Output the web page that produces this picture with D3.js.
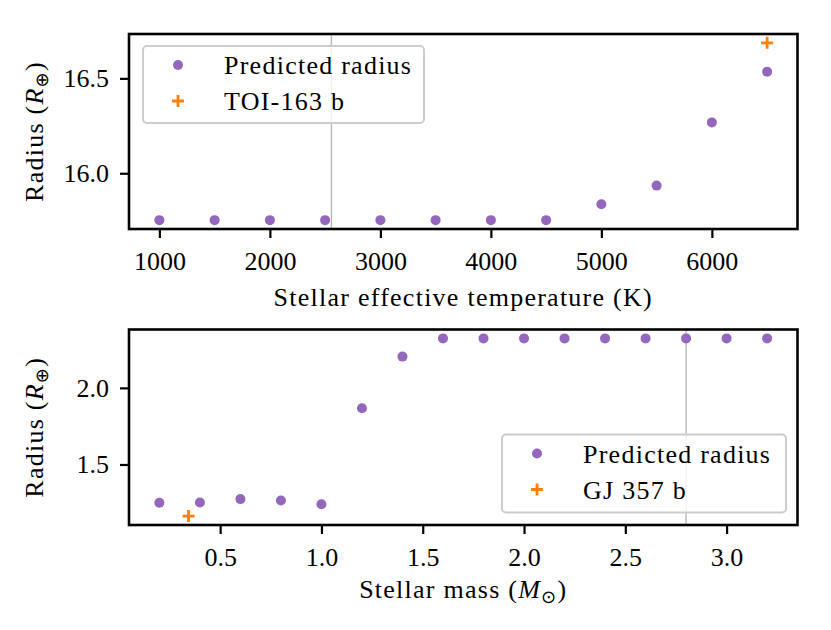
<!DOCTYPE html>
<html>
<head>
<meta charset="utf-8">
<script src="https://cdn.jsdelivr.net/npm/d3@7"></script>
</head>
<body style="margin:0">
<svg id="chart"></svg>
<script>
// top panel: radius vs stellar effective temperature
const tempK = [1000, 1500, 2000, 2500, 3000, 3500, 4000, 4500, 5000, 5500, 6000, 6500];
const tempRadius = [15.753, 15.753, 15.753, 15.753, 15.753, 15.753, 15.753, 15.753, 15.837, 15.935, 16.268, 16.535];
const toiPoint = [6500, 16.687];
const tempLine = 2557;
const tempXTicks = [1000, 2000, 3000, 4000, 5000, 6000];
const tempYTicks = [16.0, 16.5];

// bottom panel: radius vs stellar mass
const massMsun = [0.2, 0.4, 0.6, 0.8, 1.0, 1.2, 1.4, 1.6, 1.8, 2.0, 2.2, 2.4, 2.6, 2.8, 3.0, 3.2];
const massRadius = [1.250, 1.252, 1.274, 1.265, 1.241, 1.867, 2.204, 2.323, 2.323, 2.323, 2.323, 2.323, 2.323, 2.323, 2.323, 2.323];
const gjPoint = [0.344, 1.163];
const massLine = 2.80;
const massXTicks = [0.5, 1.0, 1.5, 2.0, 2.5, 3.0];
const massYTicks = [1.5, 2.0];

const width = 831, height = 630;
const fs = 26;
const serif = "Liberation Serif";
const spacing = 1.25;
const purple = "#9467bd", orange = "#ff7f0e";

const svg = d3.select("#chart")
    .attr("width", width)
    .attr("height", height)
    .attr("font-family", serif);

// matplotlib-like 5% auto margins
function padded(vals) {
    const [a, b] = d3.extent(vals);
    const m = (b - a) * 0.05;
    return [a - m, b + m];
}

function panel(o) {
    const x = d3.scaleLinear().domain(padded(o.xs.concat([o.cross[0]]))).range([129, 797.5]);
    const y = d3.scaleLinear().domain(padded(o.ys.concat([o.cross[1]]))).range([o.bottom, o.top]);
    const g = svg.append("g");

    // axes
    const ax = g.append("g")
        .attr("transform", `translate(0,${o.bottom})`)
        .call(d3.axisBottom(x).tickValues(o.xTicks).tickSize(9).tickPadding(13.5).tickFormat(o.xFmt));
    const ay = g.append("g")
        .attr("transform", "translate(129,0)")
        .call(d3.axisLeft(y).tickValues(o.yTicks).tickSize(9).tickPadding(11).tickFormat(d3.format(".1f")));
    [ax, ay].forEach(a => {
        a.attr("font-family", serif).attr("font-size", fs);
        a.select(".domain").remove();
        a.selectAll(".tick line").attr("stroke", "#000").attr("stroke-width", 2.2);
        a.selectAll(".tick text")
            .attr("font-family", serif)
            .attr("font-size", fs)
            .attr("fill", "#000");
    });

    // reference vertical line
    g.append("line")
        .attr("x1", x(o.vline)).attr("x2", x(o.vline))
        .attr("y1", o.top).attr("y2", o.bottom)
        .attr("stroke", "#b3b3b3").attr("stroke-width", 1.3);

    // predicted radius dots
    g.selectAll("circle.pt")
        .data(o.xs.map((d, i) => [d, o.ys[i]]))
        .enter().append("circle")
        .attr("class", "pt")
        .attr("cx", d => x(d[0]))
        .attr("cy", d => y(d[1]))
        .attr("r", 5)
        .attr("fill", purple);

    // observed planet
    const plus = (sel, cx, cy) => sel.append("path")
        .attr("d", `M${cx - 6},${cy}H${cx + 6}M${cx},${cy - 6}V${cy + 6}`)
        .attr("stroke", orange).attr("stroke-width", 2.8).attr("fill", "none");
    plus(g, x(o.cross[0]), y(o.cross[1]));

    // frame
    g.append("rect")
        .attr("x", 129).attr("y", o.top)
        .attr("width", 797.5 - 129).attr("height", o.bottom - o.top)
        .attr("fill", "none").attr("stroke", "#000").attr("stroke-width", 2.6);

    // legend
    const L = o.legend;
    const lg = g.append("g").attr("transform", `translate(${L.x},${L.y})`);
    lg.append("rect")
        .attr("width", L.w).attr("height", L.h).attr("rx", 4)
        .attr("fill", "#fff").attr("fill-opacity", 0.8)
        .attr("stroke", "#cccccc").attr("stroke-width", 2);
    const rows = [["dot", "Predicted radius"], ["plus", o.crossName]];
    rows.forEach(([kind, label], i) => {
        const ry = 19 + i * 36;
        if (kind === "dot") {
            lg.append("circle").attr("cx", 35).attr("cy", ry).attr("r", 5).attr("fill", purple);
        } else {
            plus(lg, 35, ry);
        }
        lg.append("text")
            .attr("x", 81).attr("y", ry + 9)
            .attr("font-family", serif).attr("font-size", fs)
            .attr("letter-spacing", spacing)
            .text(label);
    });

    // axis labels
    const xl = g.append("text")
        .attr("x", (129 + 797.5) / 2).attr("y", o.xLabelY)
        .attr("text-anchor", "middle")
        .attr("font-family", serif).attr("font-size", fs)
        .attr("letter-spacing", spacing);
    xl.append("tspan").text(o.xLabel);
    if (o.xUnit) {
        xl.append("tspan").attr("font-style", "italic").text("M");
        xl.append("tspan").attr("font-size", 18).attr("font-family", "DejaVu Sans").attr("dy", 5).text("⊙");
        xl.append("tspan").attr("dy", -5).text(")");
    }
    const yl = g.append("text")
        .attr("transform", `translate(42.5,${(o.top + o.bottom) / 2}) rotate(-90)`)
        .attr("text-anchor", "middle")
        .attr("font-family", serif).attr("font-size", fs)
        .attr("letter-spacing", spacing);
    yl.append("tspan").text("Radius (");
    yl.append("tspan").attr("font-style", "italic").text("R");
    yl.append("tspan").attr("font-size", 18).attr("font-family", "DejaVu Sans").attr("dy", 5).text("⊕");
    yl.append("tspan").attr("dy", -5).text(")");
}

panel({
    xs: tempK, ys: tempRadius, cross: toiPoint, crossName: "TOI-163 b", vline: tempLine,
    xTicks: tempXTicks, yTicks: tempYTicks, xFmt: d3.format("d"),
    top: 34, bottom: 229, xLabelY: 306,
    xLabel: "Stellar effective temperature (K)",
    legend: { x: 143, y: 46, w: 281, h: 77 }
});

panel({
    xs: massMsun, ys: massRadius, cross: gjPoint, crossName: "GJ 357 b", vline: massLine,
    xTicks: massXTicks, yTicks: massYTicks, xFmt: d3.format(".1f"),
    top: 329.5, bottom: 525, xLabelY: 598,
    xLabel: "Stellar mass (", xUnit: true,
    legend: { x: 502, y: 434.5, w: 284, h: 78 }
});
</script>
</body>
</html>
